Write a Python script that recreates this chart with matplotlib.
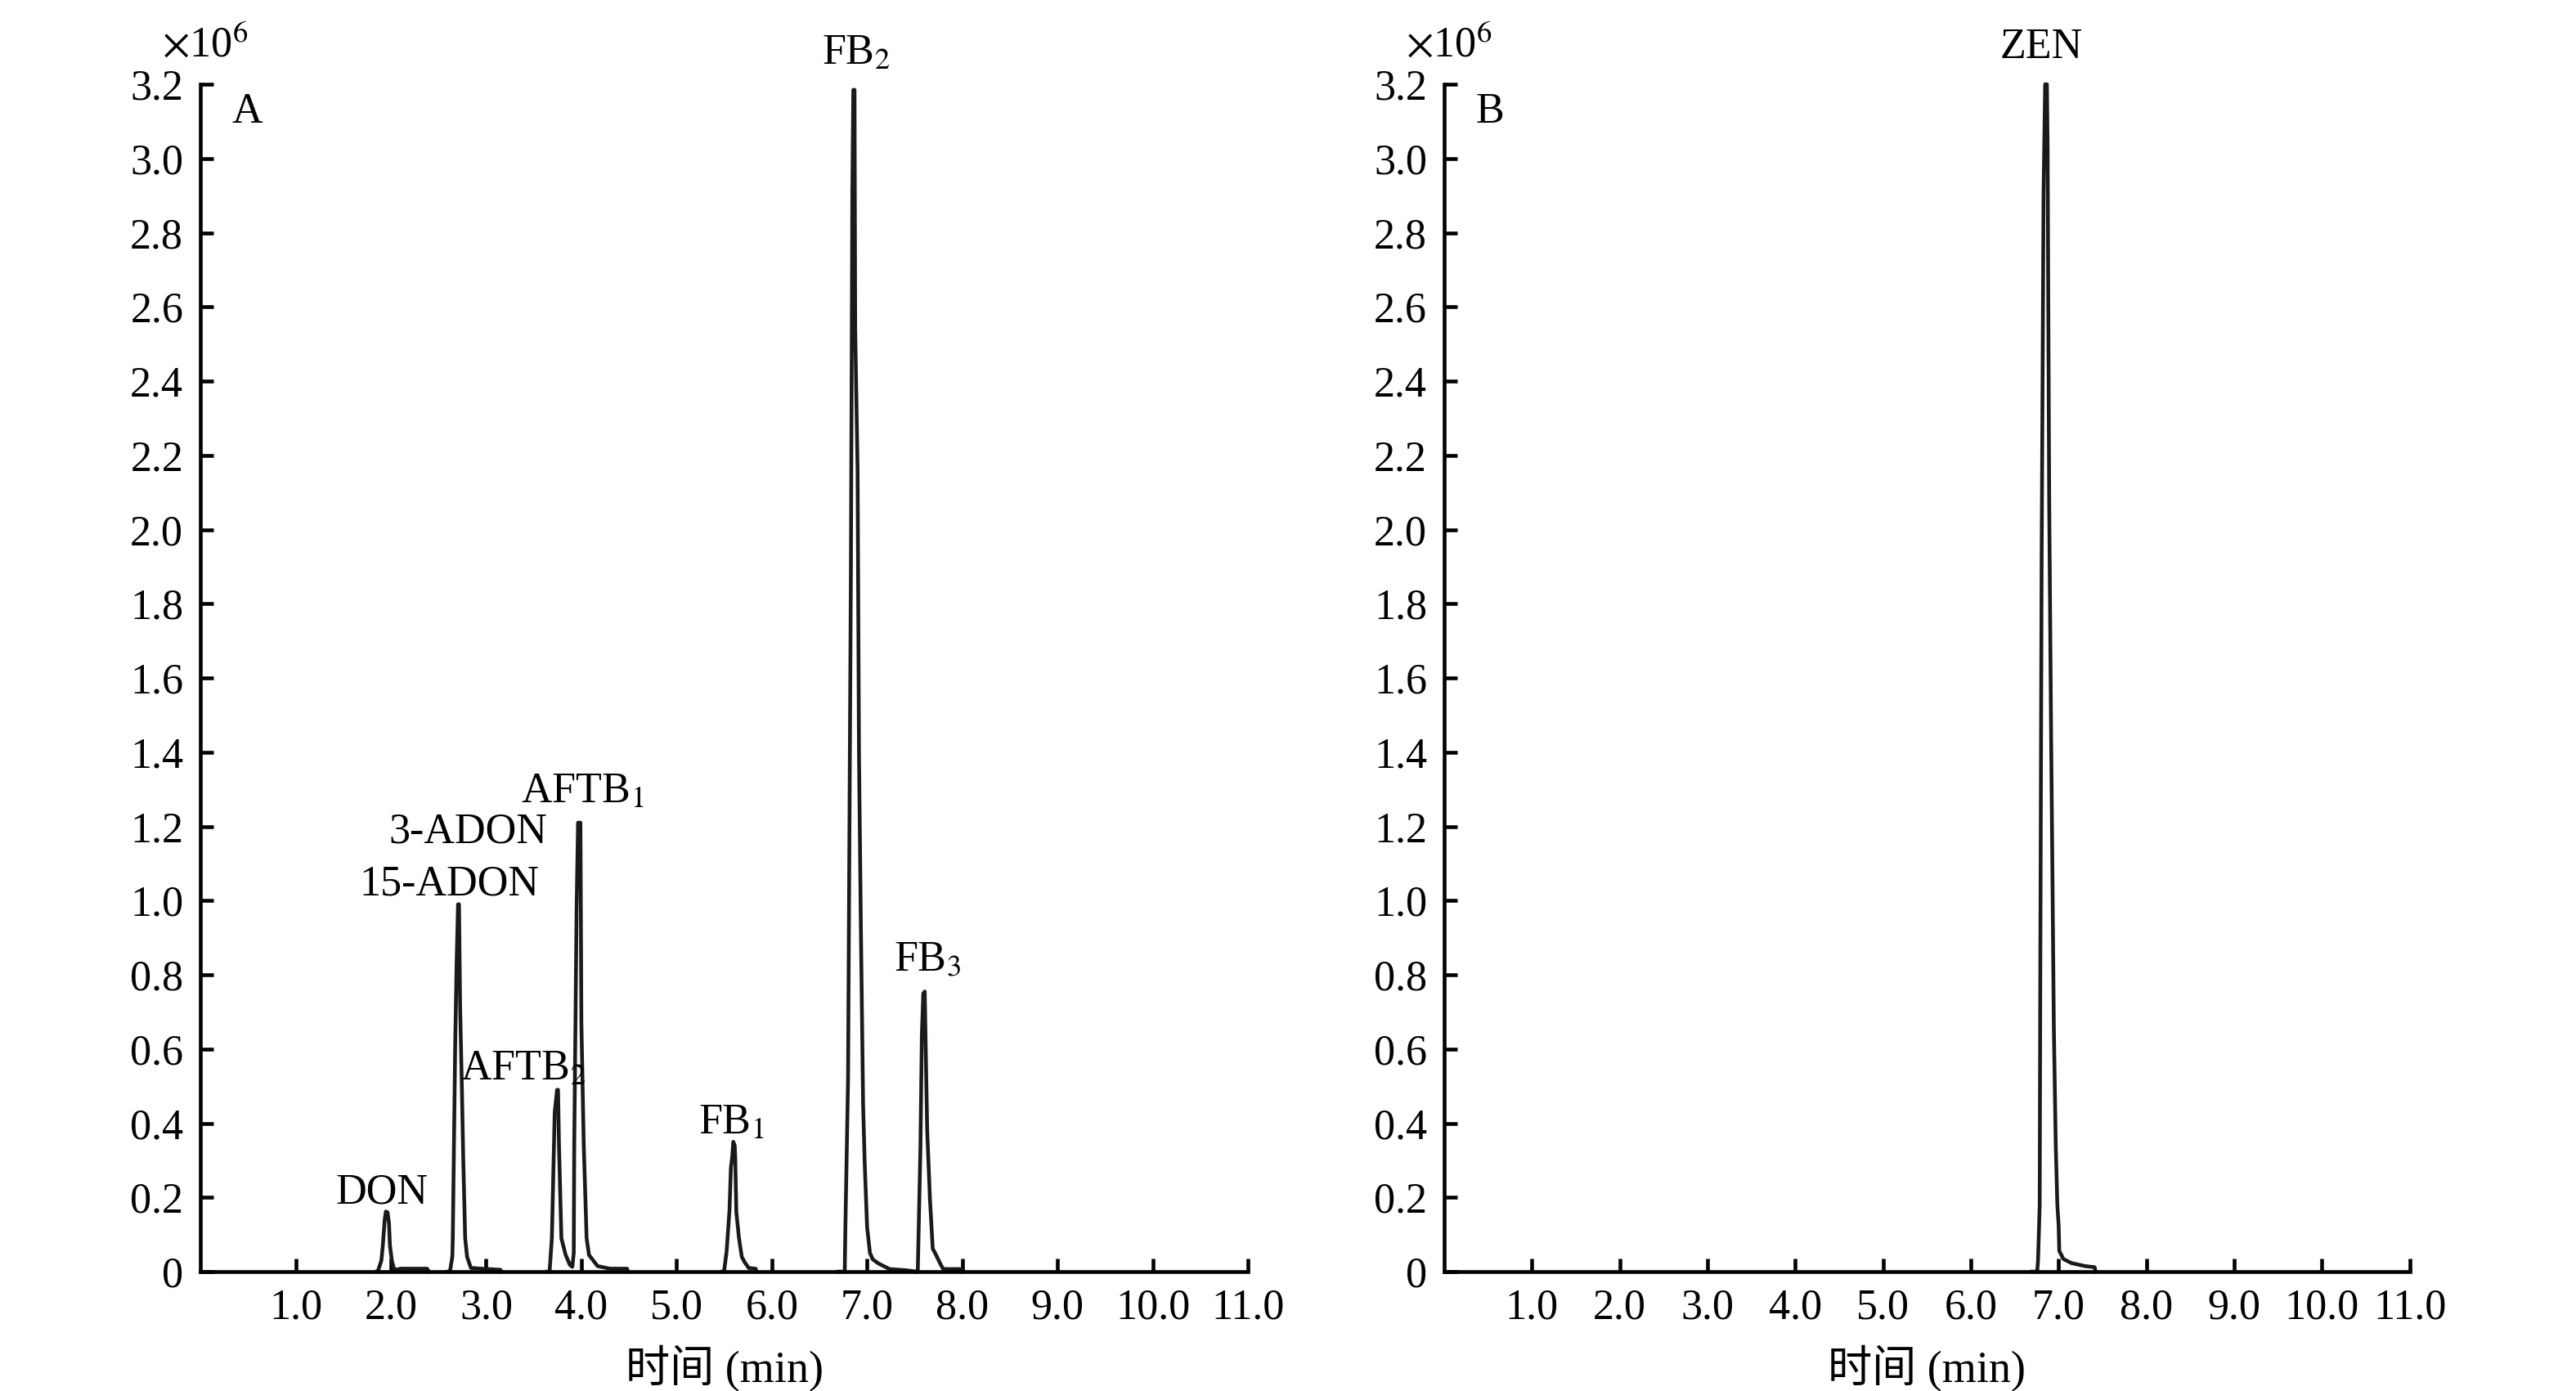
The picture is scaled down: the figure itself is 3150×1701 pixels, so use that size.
import matplotlib.pyplot as plt

plt.rcParams['font.family'] = ['Liberation Serif', 'Noto Sans CJK SC']
plt.rcParams['mathtext.fontset'] = 'stix'

# --- panel A traces: time (min), intensity (x10^6) ---
don_t = [1.85, 1.862, 1.90, 1.915, 1.935, 1.947, 1.965, 1.98, 1.99, 2.01, 2.03, 2.05, 2.10, 2.25, 2.38, 2.40]
don_v = [0, 0, 0.03, 0.07, 0.14, 0.162, 0.16, 0.13, 0.07, 0.03, 0.01, 0.005, 0.008, 0.008, 0.008, 0]

adon_t = [2.60, 2.62, 2.645, 2.65, 2.675, 2.69, 2.705, 2.715, 2.727, 2.745, 2.76, 2.78, 2.80, 2.84, 2.95, 3.15, 3.16]
adon_v = [0, 0, 0.04, 0.09, 0.61, 0.83, 0.99, 0.99, 0.71, 0.50, 0.30, 0.09, 0.04, 0.01, 0.008, 0.005, 0]

aft_t = [3.64, 3.666, 3.69, 3.72, 3.745, 3.755, 3.765, 3.79, 3.835, 3.88, 3.905, 3.92, 3.925, 3.95,
         3.965, 3.99, 4.0, 4.025, 4.055, 4.08, 4.17, 4.30, 4.48, 4.49]
aft_v = [0, 0, 0.09, 0.43, 0.49, 0.49, 0.34, 0.09, 0.045, 0.018, 0.013, 0.05, 0.34, 0.98,
         1.21, 1.21, 0.67, 0.34, 0.09, 0.045, 0.015, 0.008, 0.008, 0]

fb1_t = [5.48, 5.498, 5.525, 5.555, 5.57, 5.584, 5.595, 5.61, 5.615, 5.627, 5.655, 5.684, 5.713, 5.756, 5.83, 5.84]
fb1_v = [0, 0, 0.055, 0.165, 0.28, 0.31, 0.35, 0.34, 0.31, 0.16, 0.09, 0.04, 0.026, 0.01, 0.008, 0]

fb2_t = [6.70, 6.765, 6.772, 6.80, 6.83, 6.845, 6.855, 6.868, 6.875, 6.90, 6.915, 6.935, 6.958,
         6.975, 7.0, 7.03, 7.06, 7.12, 7.235, 7.40, 7.52]
fb2_v = [0, 0, 0.12, 0.52, 1.90, 2.91, 3.185, 3.185, 2.54, 2.16, 1.39, 0.92, 0.45,
         0.29, 0.12, 0.05, 0.033, 0.022, 0.007, 0.004, 0]

fb3_t = [7.52, 7.532, 7.56, 7.575, 7.59, 7.605, 7.617, 7.631, 7.66, 7.689, 7.718, 7.775, 7.80, 7.99, 8.0]
fb3_v = [0, 0, 0.335, 0.64, 0.75, 0.755, 0.58, 0.38, 0.195, 0.062, 0.048, 0.018, 0.007, 0.007, 0]

# --- panel B trace ---
zen_t = [6.70, 6.755, 6.765, 6.784, 6.79, 6.806, 6.828, 6.846, 6.866, 6.874, 6.88, 6.892, 6.914,
         6.929, 6.945, 6.967, 6.985, 7.0, 7.007, 7.054, 7.147, 7.30, 7.41, 7.42]
zen_v = [0, 0, 0.03, 0.18, 0.75, 1.92, 2.91, 3.20, 3.20, 3.03, 2.71, 2.08, 1.44,
         1.07, 0.66, 0.337, 0.18, 0.123, 0.056, 0.034, 0.023, 0.015, 0.012, 0]

# peak labels: text, time, intensity (baseline of text)
labels_A = ['DON', '15-ADON', '3-ADON', 'AFTB$_2$', 'AFTB$_1$', 'FB$_1$', 'FB$_2$', 'FB$_3$']
labels_A_t = [1.907, 2.616, 2.81, 3.385, 4.008, 5.58, 6.886, 7.63]
labels_A_v = [0.185, 1.014, 1.157, 0.518, 1.266, 0.372, 3.255, 0.809]
labels_B = ['ZEN']
labels_B_t = [6.80]
labels_B_v = [3.27]

x_ticks = [1, 2, 3, 4, 5, 6, 7, 8, 9, 10, 11]
y_ticks = [0, 0.2, 0.4, 0.6, 0.8, 1.0, 1.2, 1.4, 1.6, 1.8, 2.0, 2.2, 2.4, 2.6, 2.8, 3.0, 3.2]

fig = plt.figure(figsize=(10.5, 5.67), dpi=300)
axA = fig.add_axes([0.0778, 0.0858, 0.4067, 0.8536])
axB = fig.add_axes([0.5606, 0.0858, 0.3749, 0.8536])


def style(ax, letter):
    ax.set_xlim(0, 11)
    ax.set_ylim(0, 3.2)
    ax.spines['top'].set_visible(False)
    ax.spines['right'].set_visible(False)
    ax.spines['left'].set_linewidth(1.1)
    ax.spines['bottom'].set_linewidth(1.1)
    ax.set_xticks(x_ticks)
    ax.set_xticklabels(['%.1f' % x for x in x_ticks])
    ax.set_yticks(y_ticks)
    ax.set_yticklabels(['0'] + ['%.1f' % y for y in y_ticks[1:]])
    ax.tick_params(direction='in', length=3.8, width=1.1, labelsize=12.5, pad=5)
    ax.set_xlabel('时间 (min)', fontsize=13, labelpad=5)
    ax.annotate(r'$\times$10$^6$', xy=(0, 1), xycoords='axes fraction',
                xytext=(-11.3, 7.9), textcoords='offset points',
                fontsize=12.5, ha='left', va='baseline', annotation_clip=False)
    ax.annotate(letter, xy=(0, 1), xycoords='axes fraction',
                xytext=(9.3, -11.3), textcoords='offset points',
                fontsize=12.5, ha='left', va='baseline')


style(axA, 'A')
style(axB, 'B')

for t, v in [(don_t, don_v), (adon_t, adon_v), (aft_t, aft_v), (fb1_t, fb1_v),
             (fb2_t, fb2_v), (fb3_t, fb3_v)]:
    axA.plot(t, v, color='#1a1a1a', lw=1.1, clip_on=False)
axB.plot(zen_t, zen_v, color='#1a1a1a', lw=1.1, clip_on=False)

for s, t, v in zip(labels_A, labels_A_t, labels_A_v):
    axA.text(t, v, s, fontsize=12.5, ha='center', va='baseline')
for s, t, v in zip(labels_B, labels_B_t, labels_B_v):
    axB.text(t, v, s, fontsize=12.5, ha='center', va='baseline')

fig.savefig('out.png', dpi=300)
